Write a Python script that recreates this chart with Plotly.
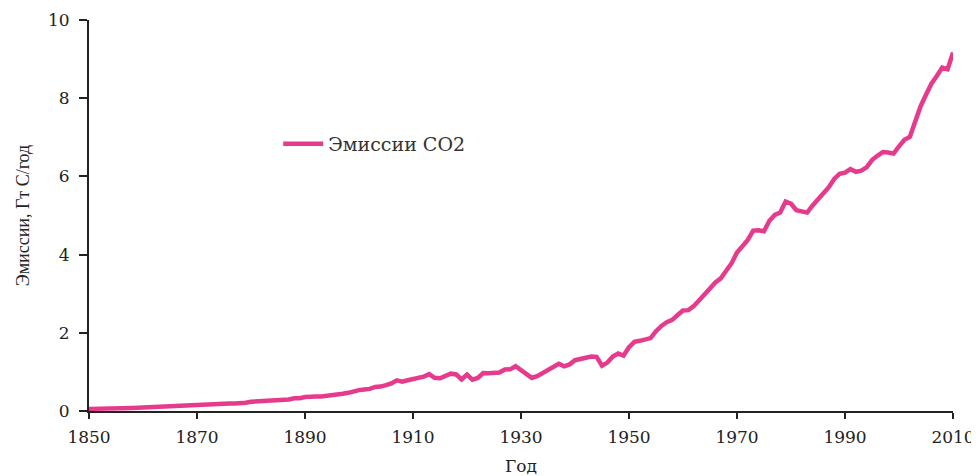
import plotly.graph_objects as go

years = list(range(1850, 2011))
emissions = [
    0.054, 0.054, 0.057, 0.059, 0.069, 0.071, 0.076, 0.077, 0.078, 0.083,
    0.091, 0.095, 0.097, 0.104, 0.112, 0.119, 0.122, 0.130, 0.135, 0.142,
    0.147, 0.156, 0.173, 0.184, 0.174, 0.188, 0.191, 0.194, 0.196, 0.210,
    0.236, 0.243, 0.256, 0.272, 0.275, 0.277, 0.281, 0.295, 0.327, 0.327,
    0.356, 0.372, 0.374, 0.370, 0.383, 0.406, 0.419, 0.440, 0.465, 0.507,
    0.534, 0.552, 0.566, 0.617, 0.624, 0.663, 0.707, 0.784, 0.750, 0.785,
    0.819, 0.836, 0.879, 0.943, 0.850, 0.838, 0.901, 0.955, 0.936, 0.806,
    0.932, 0.803, 0.845, 0.970, 0.963, 0.975, 0.983, 1.062, 1.065, 1.145,
    1.053, 0.940, 0.847, 0.893, 0.973, 1.027, 1.130, 1.209, 1.142, 1.192,
    1.299, 1.334, 1.342, 1.391, 1.383, 1.160, 1.238, 1.392, 1.469, 1.419,
    1.630, 1.767, 1.795, 1.841, 1.865, 2.042, 2.177, 2.270, 2.330, 2.454,
    2.569, 2.580, 2.686, 2.833, 2.995, 3.130, 3.288, 3.393, 3.566, 3.780,
    4.053, 4.208, 4.376, 4.614, 4.623, 4.596, 4.864, 5.016, 5.074, 5.357,
    5.301, 5.138, 5.094, 5.075, 5.258, 5.417, 5.583, 5.725, 5.936, 6.066,
    6.096, 6.187, 6.116, 6.148, 6.232, 6.418, 6.527, 6.625, 6.611, 6.585,
    6.766, 6.935, 7.008, 7.398, 7.796, 8.090, 8.370, 8.566, 8.783, 8.740,
    9.167,
]
x_ticks = [1850, 1870, 1890, 1910, 1930, 1950, 1970, 1990, 2010]
y_ticks = [0, 2, 4, 6, 8, 10]
series_name = "Эмиссии CO2"
x_title = "Год"
y_title = "Эмиссии, Гт С/год"

fig = go.Figure()
fig.add_trace(go.Scatter(
    x=years, y=emissions, mode="lines", name=series_name,
    line=dict(color="#E63B8C", width=4.5),
))

serif = "Liberation Serif"
wide = "DejaVu Serif"
fig.update_layout(
    width=971, height=468,
    margin=dict(l=81, r=26, t=12, b=65),
    paper_bgcolor="white", plot_bgcolor="white",
    font=dict(family=serif, color="#222222"),
    showlegend=True,
    legend=dict(
        x=0.219, y=0.683, xanchor="left", yanchor="middle",
        bgcolor="rgba(0,0,0,0)",
        font=dict(family=wide, size=19, color="#333333"),
        itemwidth=40,
    ),
    xaxis=dict(
        range=[1850, 2010], tickvals=x_ticks, ticktext=[str(v) for v in x_ticks],
        showgrid=False, zeroline=False, showline=True, linecolor="#222222", linewidth=2,
        ticks="outside", ticklen=6, tickwidth=2, tickcolor="#222222",
        tickfont=dict(family=wide, size=17, color="#222222"),
        ticklabelstandoff=4,
        automargin=False,
        title=dict(text=x_title, font=dict(family=wide, size=17, color="#222222"), standoff=23),
    ),
    yaxis=dict(
        range=[0, 10], tickvals=y_ticks,
        showgrid=False, zeroline=False, showline=True, linecolor="#222222", linewidth=2,
        ticks="outside", ticklen=8, tickwidth=2, tickcolor="#222222",
        tickfont=dict(family=wide, size=17, color="#222222"),
        ticklabelstandoff=6,
        automargin=False,
        title=dict(text=y_title, font=dict(family=serif, size=18, color="#222222"), standoff=14),
    ),
)

fig.write_html("out.html")
